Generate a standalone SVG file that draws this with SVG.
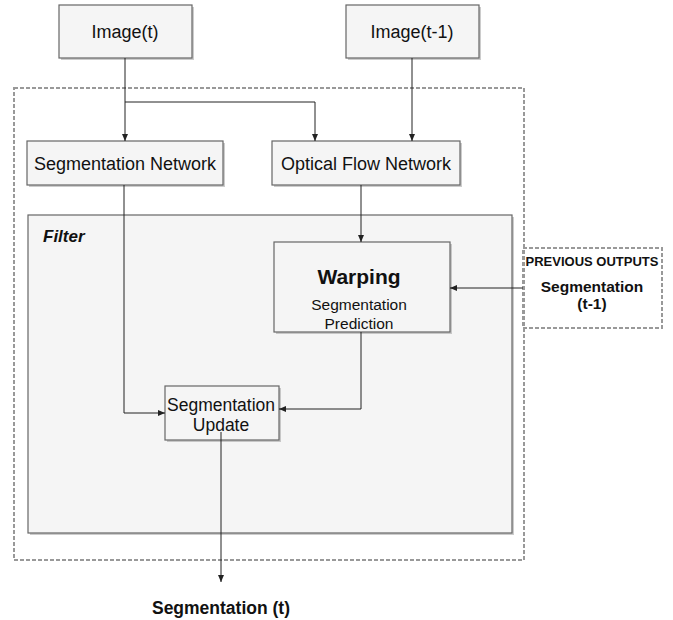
<svg xmlns="http://www.w3.org/2000/svg" width="673" height="620" viewBox="0 0 673 620">
<style>
.box{fill:#f5f5f5;stroke:#666666;stroke-width:1.2}
.sh{fill:#999999;opacity:0.5}
.dash{fill:none;stroke:#999999;stroke-width:2;stroke-dasharray:4 2}
.t{font-family:"Liberation Sans",Arial,sans-serif;fill:#111111;text-anchor:middle}
.c{fill:none;stroke:#222222;stroke-width:1}
</style>
<defs>
<marker id="ah" markerWidth="8" markerHeight="8" refX="7" refY="4" orient="auto" markerUnits="userSpaceOnUse">
<path d="M0,1 L7,4 L0,7 Z" fill="#222222"/>
</marker>
</defs>
<rect width="673" height="620" fill="#ffffff"/>
<g id="outer"><rect class="dash" x="14" y="88" width="510" height="472"/></g>
<g id="filter">
<rect class="sh" x="30" y="217" width="484" height="318"/>
<rect class="box" x="28" y="215" width="484" height="318"/>
<text class="t" x="43" y="242" style="text-anchor:start;font-weight:bold;font-style:italic;font-size:17px">Filter</text>
</g>
<g id="image-t">
<rect class="sh" x="61" y="7" width="133" height="53"/>
<rect class="box" x="59" y="5" width="133" height="53"/>
<text class="t" x="125" y="38" font-size="18">Image(t)</text>
</g>
<g id="image-t1">
<rect class="sh" x="348" y="7" width="133" height="53"/>
<rect class="box" x="346" y="5" width="133" height="53"/>
<text class="t" x="412" y="38" font-size="18">Image(t-1)</text>
</g>
<g id="seg-net">
<rect class="sh" x="29" y="143" width="196" height="44"/>
<rect class="box" x="27" y="141" width="196" height="44"/>
<text class="t" x="125" y="170" font-size="18">Segmentation Network</text>
</g>
<g id="flow-net">
<rect class="sh" x="274" y="143" width="188" height="44"/>
<rect class="box" x="272" y="141" width="188" height="44"/>
<text class="t" x="366" y="170" font-size="18">Optical Flow Network</text>
</g>
<g id="warping">
<rect class="sh" x="276" y="244" width="176" height="90"/>
<rect class="box" x="274" y="242" width="176" height="90"/>
<text class="t" x="359" y="284" font-size="21" font-weight="bold">Warping</text>
<text class="t" x="359" y="310" font-size="15.5">Segmentation</text>
<text class="t" x="359" y="329" font-size="15.5">Prediction</text>
</g>
<g id="previous">
<rect class="dash" x="523" y="248" width="139" height="80"/>
<text class="t" x="592" y="266" font-size="13" font-weight="bold">PREVIOUS OUTPUTS</text>
<text class="t" x="592" y="292" font-size="15.5" font-weight="bold">Segmentation</text>
<text class="t" x="592" y="309" font-size="15.5" font-weight="bold">(t-1)</text>
</g>
<g id="seg-update">
<rect class="sh" x="167" y="388" width="114" height="54"/>
<rect class="box" x="165" y="386" width="114" height="54"/>
<text class="t" x="221" y="411" font-size="17.5">Segmentation</text>
<text class="t" x="221" y="431" font-size="17.5">Update</text>
</g>
<g id="output">
<text class="t" x="221" y="614" font-size="17.5" font-weight="bold">Segmentation (t)</text>
</g>
<g id="connectors">
<path class="c" d="M125,58 V141" marker-end="url(#ah)"/>
<path class="c" d="M125,102 H315 V141" marker-end="url(#ah)"/>
<path class="c" d="M412,58 V141" marker-end="url(#ah)"/>
<path class="c" d="M361,185 V242" marker-end="url(#ah)"/>
<path class="c" d="M523,288 H450" marker-end="url(#ah)"/>
<path class="c" d="M124,185 V413 H165" marker-end="url(#ah)"/>
<path class="c" d="M361,332 V409 H279" marker-end="url(#ah)"/>
<path class="c" d="M221,432 V582" marker-end="url(#ah)"/>
</g>
</svg>
